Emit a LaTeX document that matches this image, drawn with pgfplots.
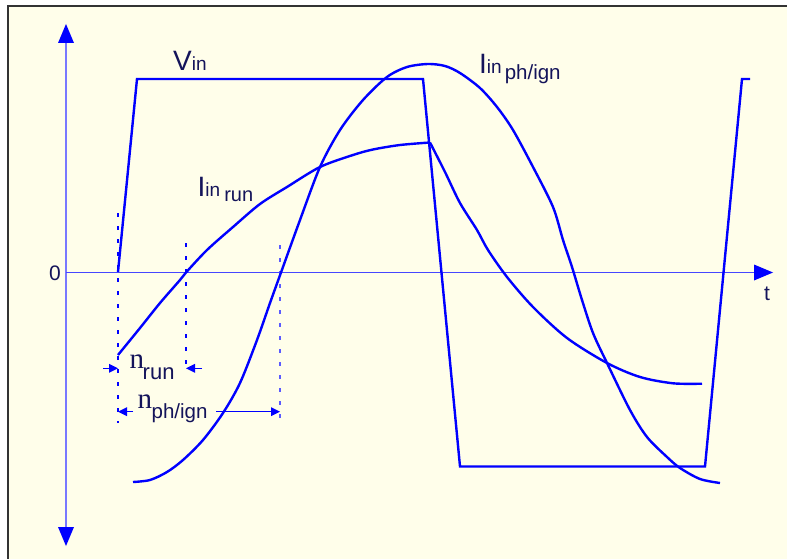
\documentclass[border=0pt]{standalone}
\usepackage{pgfplots}
\pgfplotsset{compat=1.18}
\usepackage{fontspec}
\setmainfont{Liberation Sans}
\newfontfamily\nfont{Liberation Serif}
\usetikzlibrary{arrows.meta}
\definecolor{bg}{RGB}{255,254,234}
\definecolor{curve}{RGB}{0,0,255}
\definecolor{yax}{RGB}{120,120,255}
\definecolor{xax}{RGB}{70,70,255}
\definecolor{dashc}{RGB}{90,90,255}
\definecolor{txt}{RGB}{20,20,90}
\newcommand{\fs}[1]{\fontsize{#1}{#1}\selectfont}

\begin{document}
\begin{tikzpicture}
\begin{axis}[
  scale only axis, width=787pt, height=559pt,
  xmin=0, xmax=787, ymin=0, ymax=559, y dir=reverse,
  hide axis, clip=false,
  every axis plot/.append style={curve, line width=2.4pt, line join=round, no markers},
]
% background and frame
\fill[white] (axis cs:0,0) rectangle (axis cs:787,559);
\fill[bg] (axis cs:8,7) rectangle (axis cs:787,559);
\draw[black!80, line width=2pt] (axis cs:7.5,559) -- (axis cs:7.5,6.5) -- (axis cs:787,6.5);

% axes
\draw[yax, line width=1.8pt,
  {Triangle[length=19pt,width=16pt,color=curve,line width=0pt]}-{Triangle[length=19pt,width=16pt,color=curve,line width=0pt]}]
  (axis cs:66,546) -- (axis cs:66,24);
\draw[xax, line width=1.1pt, -{Triangle[length=19pt,width=16pt,color=curve,line width=0pt]}]
  (axis cs:66,272.5) -- (axis cs:773,272.5);

% dotted markers
\draw[curve, line width=1.3pt, dash pattern=on 4pt off 9pt] (axis cs:118,213) -- (axis cs:118,423);
\draw[curve, line width=1.3pt, dash pattern=on 4pt off 9pt] (axis cs:186,243) -- (axis cs:186,367);
\draw[dashc, line width=1.5pt, dash pattern=on 4pt off 9pt] (axis cs:280,245) -- (axis cs:280,423);

% V_in
\addplot[sharp plot, line join=miter] coordinates {
  (118,272) (137,79) (423,79) (460,466.5) (705,466.5) (742,79) (750,79)};

% I_in run
\addplot[smooth, tension=0.5] coordinates {
  (118,355) (140,328) (160,303) (180,280) (186,272.5) (207,250) (233,227)
  (260,204) (287,187) (320,167) (353,155) (373,149.5) (400,145) (430,142.5)};
\addplot[smooth, tension=0.5] coordinates {
  (430,142.5) (445,172) (460,203) (477,230) (488,250) (507,277) (533,307)
  (567,338) (607,363) (640,377) (673,383.3) (702,383.7)};

% I_in ph/ign
\addplot[smooth, tension=0.5] coordinates {
  (133,482) (150,480) (167,472) (183,460) (203,440) (223,413) (240,383)
  (257,340) (270,303) (281,272.5) (300,220) (320,167) (340,130) (363,100)
  (387,77) (407,67) (428,64) (445,66) (460,73) (480,88) (497,107) (513,130)
  (533,167) (553,207) (563,240) (572,267) (582,300) (593,333) (607,363)
  (630,410) (647,437) (667,457) (680,468) (700,479) (720,483)};

% n arrows
\draw[curve, line width=1.3pt, -{Triangle[length=9pt,width=9pt,line width=0pt]}] (axis cs:103,368.3) -- (axis cs:118,368.3);
\draw[curve, line width=1.3pt, -{Triangle[length=9pt,width=9pt,line width=0pt]}] (axis cs:202,368.3) -- (axis cs:186,368.3);
\draw[curve, line width=1.3pt, -{Triangle[length=9pt,width=9pt,line width=0pt]}] (axis cs:133,411.7) -- (axis cs:118,411.7);
\draw[curve, line width=1.3pt, -{Triangle[length=9pt,width=9pt,line width=0pt]}] (axis cs:216,411.7) -- (axis cs:280,411.7);

% labels
\begin{scope}[every node/.style={anchor=base west, inner sep=0pt, text=txt}]
\node at (axis cs:173,70.5) {\fs{28}V\fs{19}in};
\node at (axis cs:197.5,196) {\fs{28}I\fs{19}in\hspace{4pt}\raisebox{-6pt}{\fs{20}run}};
\node at (axis cs:479,73.3) {\fs{28}I\fs{19}in\hspace{3pt}\raisebox{-6pt}{\fs{20.5}ph/ign}};
\node at (axis cs:129.5,368.3) {\nfont\fs{29}n\hspace{-1.5pt}\raisebox{-11pt}{\normalfont\fs{22}run}};
\node at (axis cs:137.5,408) {\nfont\fs{29}n\hspace{-0.5pt}\raisebox{-10pt}{\normalfont\fs{20.5}ph/ign}};
\node at (axis cs:49,280) {\fs{21}0};
\node at (axis cs:764,300) {\fs{21}t};
\end{scope}
\end{axis}
\pgfresetboundingbox
\path (current axis.south west) rectangle (current axis.north east);
\end{tikzpicture}
\end{document}
